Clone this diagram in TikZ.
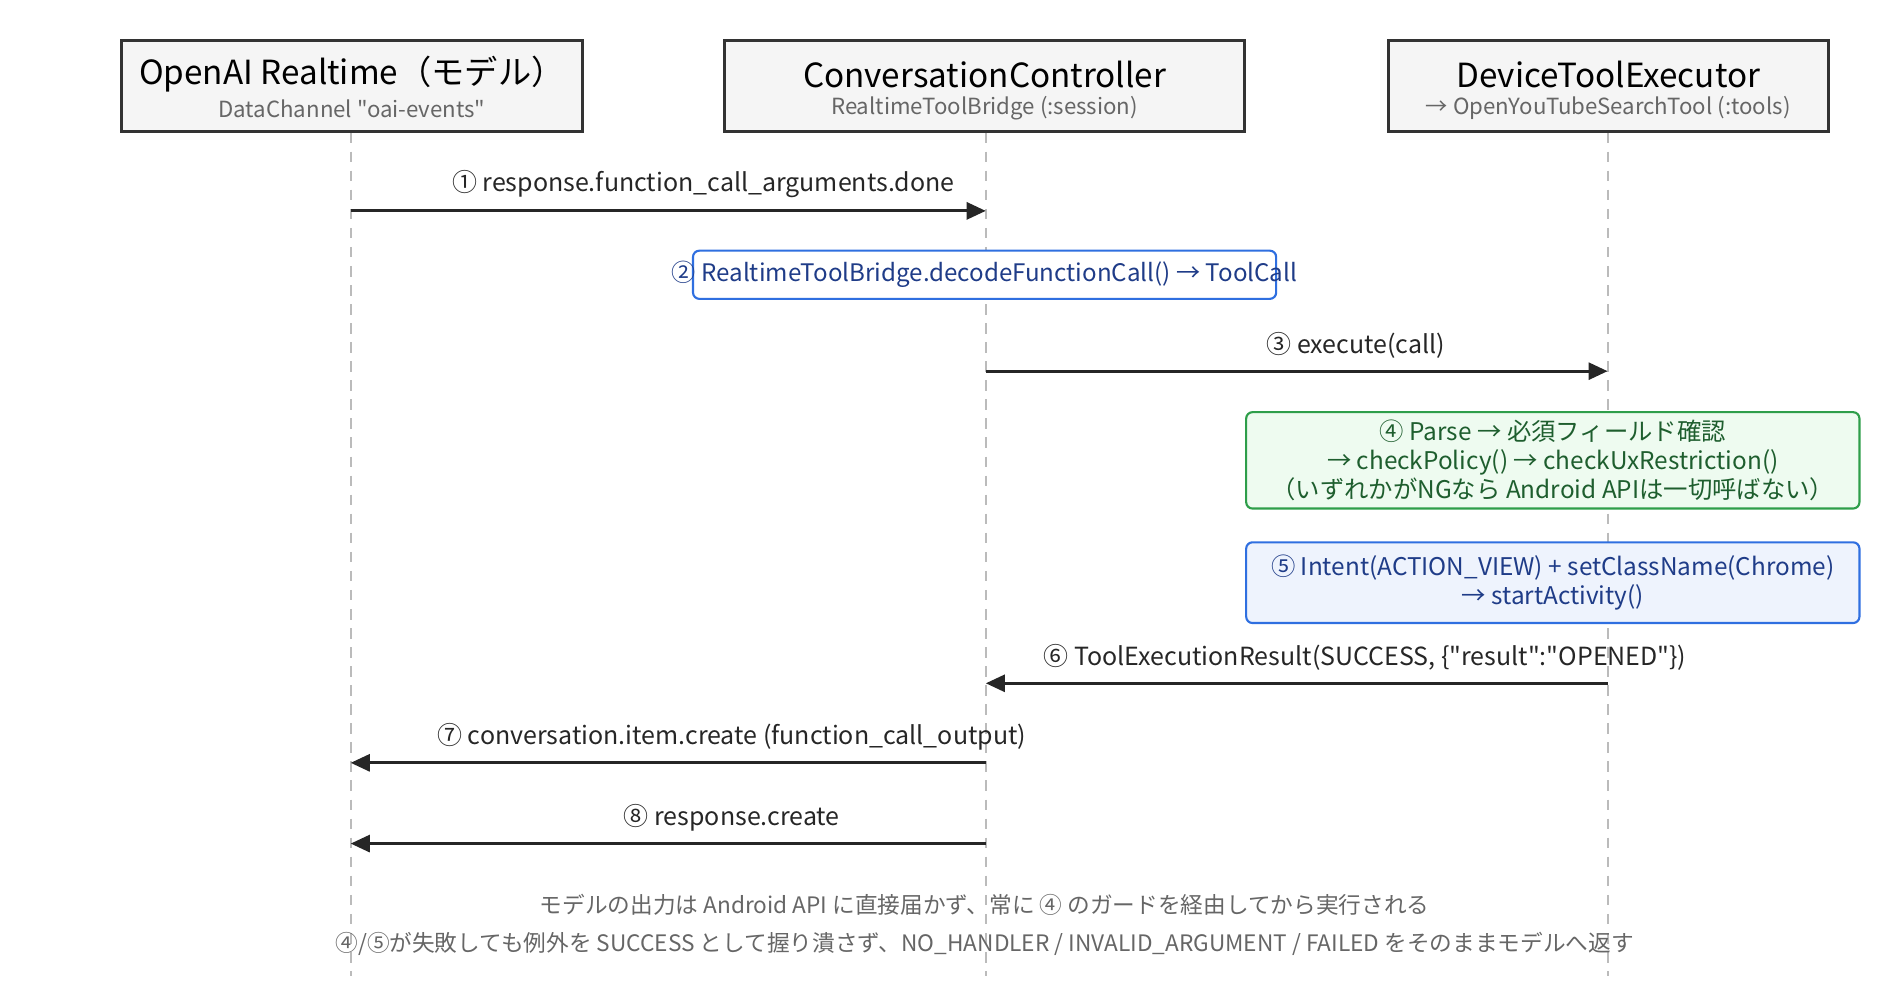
\documentclass[tikz,border=0pt]{standalone}
\usepackage{fontspec}
\setmainfont{Noto Sans CJK JP}[Ligatures=TeXOff]
\usetikzlibrary{arrows.meta,positioning}
\definecolor{hdrfill}{HTML}{F5F5F5}
\definecolor{hdrline}{HTML}{333333}
\definecolor{lifegray}{HTML}{BBBBBB}
\definecolor{subgray}{HTML}{666666}
\definecolor{notegreen}{HTML}{2E9E4A}
\definecolor{greenfill}{HTML}{EEFBF0}
\definecolor{greentext}{HTML}{1E5E2E}
\definecolor{noteblue}{HTML}{2F6FE0}
\definecolor{bluefill}{HTML}{EEF3FD}
\definecolor{bluetext}{HTML}{1F3C88}
\tikzset{
  actor/.style={draw=hdrline, fill=hdrfill, line width=1.4pt, minimum height=1.52cm, inner sep=0pt},
  lifeline/.style={draw=lifegray, line width=1pt, dash pattern=on 5pt off 4pt},
  msg/.style={line width=1.4pt, draw=black!85, -{Triangle[length=9pt,width=8pt]}},
  msglabel/.style={font=\fontsize{11.8}{14}\selectfont, text=black!85, above=2pt},
  greennote/.style={draw=notegreen, fill=greenfill, line width=1pt, rounded corners=3pt, text=greentext, align=center, font=\fontsize{11.5}{13.5}\selectfont},
  bluenote/.style={draw=noteblue, fill=bluefill, line width=1pt, rounded corners=3pt, text=bluetext, align=center, font=\fontsize{11.5}{13.5}\selectfont},
  footnote/.style={text=subgray, font=\fontsize{10.7}{12}\selectfont}
}
\begin{document}
\begin{tikzpicture}[x=0.02cm, y=-0.02cm]
	\useasboundingbox (0,0) rectangle (1560,830);
	
	% lifelines
	\foreach \name/\x in {model/291, ctrl/818, exec/1334} {
		\coordinate (\name-top) at (\x,110);
		\coordinate (\name-bot) at (\x,810);
		\draw[lifeline] (\name-top) -- (\name-bot);
	}
	
	% actors
	\node[actor, minimum width=7.64cm] (model) at (292,71.5) {};
	\node[actor, minimum width=8.64cm] (ctrl) at (817,71.5) {};
	\node[actor, minimum width=7.30cm] (exec) at (1334.5,71.5) {};
	\foreach \name in {model, ctrl, exec} {
		\coordinate (\name-t) at ([yshift=0.2cm]\name.center);
		\coordinate (\name-s) at ([yshift=-0.37cm]\name.center);
	}
	\node[font=\fontsize{15.7}{18}\selectfont] at (model-t) {OpenAI Realtime（モデル）};
	\node[font=\fontsize{10.5}{12}\selectfont, text=subgray] at (model-s) {DataChannel "oai-events"};
	\node[font=\fontsize{15.7}{18}\selectfont] at (ctrl-t) {ConversationController};
	\node[font=\fontsize{10.5}{12}\selectfont, text=subgray] at (ctrl-s) {RealtimeToolBridge (:session)};
	\node[font=\fontsize{15.7}{18}\selectfont] at (exec-t) {DeviceToolExecutor};
	\node[font=\fontsize{10.5}{12}\selectfont, text=subgray] at (exec-s) {→ OpenYouTubeSearchTool (:tools)};
	
	% message points
	\foreach \y/\i in {175/1, 308/3, 567/6, 633/7, 700/8} {
		\coordinate (m\i-model) at (291,\y);
		\coordinate (m\i-ctrl) at (818,\y);
		\coordinate (m\i-exec) at (1334,\y);
	}
	
	\draw[msg] (m1-model) -- (m1-ctrl) node[msglabel, pos=0.555] {① response.function\_call\_arguments.done};
	
	\node[draw=noteblue, fill=white, line width=1pt, rounded corners=3pt, minimum width=9.68cm, minimum height=0.8cm] (note2) at (817,228) {};
	\node[text=bluetext, font=\fontsize{11.4}{13}\selectfont] at (note2) {② RealtimeToolBridge.decodeFunctionCall() → ToolCall};
	
	\draw[msg] (m3-ctrl) -- (m3-exec) node[msglabel, pos=0.595] {③ execute(call)};
	
	\node[greennote, minimum width=10.18cm, minimum height=1.6cm] (note4) at (1288.5,382) {④ Parse → 必須フィールド確認\\→ checkPolicy() → checkUxRestriction()\\（いずれかがNGなら Android APIは一切呼ばない）};
	\node[bluenote, minimum width=10.18cm, minimum height=1.34cm] (note5) at (1288.5,483.5) {⑤ Intent(ACTION\_VIEW) + setClassName(Chrome)\\→ startActivity()};
	
	\draw[msg] (m6-exec) -- (m6-ctrl) node[msglabel, pos=0.39] {⑥ ToolExecutionResult(SUCCESS, \{"result":"OPENED"\})};
	\draw[msg] (m7-ctrl) -- (m7-model) node[msglabel, pos=0.40] {⑦ conversation.item.create (function\_call\_output)};
	\draw[msg] (m8-ctrl) -- (m8-model) node[msglabel, pos=0.40] {⑧ response.create};
	
	% notes at the bottom
	\node[footnote] (foot1) at (817,751) {モデルの出力は Android API に直接届かず、常に ④ のガードを経由してから実行される};
	\node[footnote, below=0.02cm of foot1.south, anchor=north] (foot2) {④/⑤が失敗しても例外を SUCCESS として握り潰さず、NO\_HANDLER / INVALID\_ARGUMENT / FAILED をそのままモデルへ返す};
\end{tikzpicture}
\end{document}
